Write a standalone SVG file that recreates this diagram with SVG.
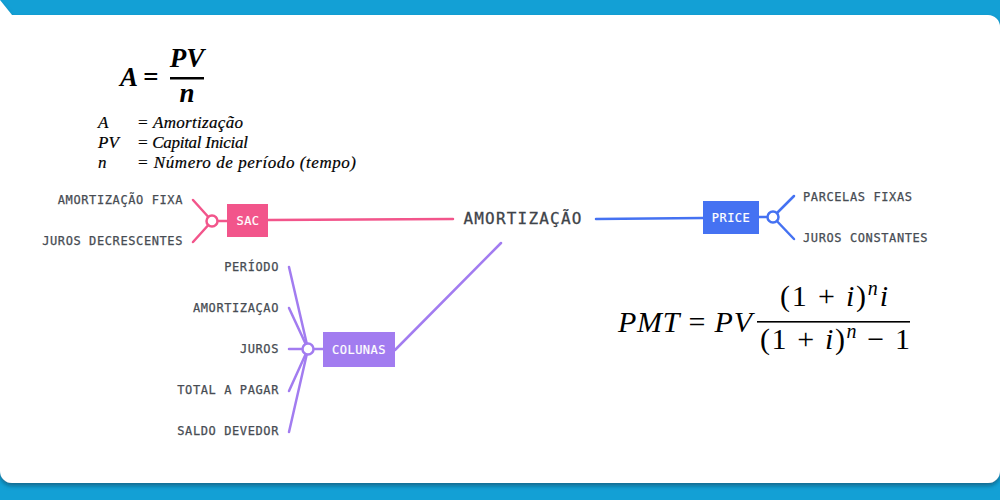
<svg xmlns="http://www.w3.org/2000/svg" width="1000" height="500" viewBox="0 0 1000 500">
<defs>
<style>
.lbl{font-family:"DejaVu Sans Mono","Liberation Mono",monospace;font-size:12px;fill:#474c53;letter-spacing:0.6px;dominant-baseline:central;stroke:#474c53;stroke-width:0.25}
.box{font-family:"DejaVu Sans Mono","Liberation Mono",monospace;font-size:12px;fill:#ffffff;letter-spacing:0.5px;dominant-baseline:central;text-anchor:middle;stroke:#fff;stroke-width:0.2}
.main{font-family:"DejaVu Sans Mono","Liberation Mono",monospace;font-size:16px;fill:#3f444a;letter-spacing:1.2px;dominant-baseline:central;text-anchor:middle;stroke:#3f444a;stroke-width:0.3}
.pk{stroke:#f2558b;stroke-width:2.5;fill:none;stroke-linecap:round}
.bl{stroke:#4572f2;stroke-width:2.5;fill:none;stroke-linecap:round}
.pu{stroke:#a27cf0;stroke-width:2.5;fill:none;stroke-linecap:round}
.f1{font-family:"Liberation Serif","DejaVu Serif",serif;font-style:italic;font-weight:bold;fill:#000}
.leg{font-family:"Liberation Serif","DejaVu Serif",serif;font-style:italic;font-size:17px;fill:#000;stroke:#000;stroke-width:0.2}
.m{font-family:"Liberation Serif","DejaVu Serif",serif;font-size:30px;fill:#000}
</style>
<filter id="sh" x="-5%" y="-5%" width="110%" height="115%">
<feDropShadow dx="0" dy="3" stdDeviation="2" flood-color="#0a5f80" flood-opacity="0.8"/>
</filter>
</defs>
<rect x="0" y="0" width="1000" height="500" fill="#13a0d5"/>
<path d="M0,0 L12,15 H988 A12,12 0 0 1 1000,27 V471 A12,12 0 0 1 988,483 H12 A12,12 0 0 1 0,471 Z" fill="#ffffff" filter="url(#sh)"/>

<g id="formula-a">
<text class="f1" x="120" y="86" font-size="27">A</text>
<text class="f1" x="143" y="86" font-size="27">=</text>
<text class="f1" x="187" y="67" font-size="27" text-anchor="middle">PV</text>
<rect x="170" y="77" width="34" height="2.5" fill="#000"/>
<text class="f1" x="187" y="102" font-size="27" text-anchor="middle">n</text>
<text class="leg" x="98" y="128">A</text>
<text class="leg" x="137" y="128" textLength="106" lengthAdjust="spacing">= Amortização</text>
<text class="leg" x="98" y="148">PV</text>
<text class="leg" x="137" y="148" textLength="111" lengthAdjust="spacing">= Capital Inicial</text>
<text class="leg" x="98" y="168">n</text>
<text class="leg" x="137" y="168" textLength="219" lengthAdjust="spacing">= Número de período (tempo)</text>
</g>

<g id="connectors">
<line class="pk" x1="268" y1="220" x2="453" y2="219"/>
<line class="pk" x1="212" y1="221" x2="193" y2="200"/>
<line class="pk" x1="212" y1="221" x2="193" y2="242"/>
<line class="pk" x1="212" y1="221" x2="227" y2="221"/>
<line class="bl" x1="596" y1="219" x2="703" y2="218"/>
<line class="bl" x1="759" y1="217" x2="773" y2="217"/>
<line class="bl" x1="773" y1="217" x2="794" y2="196"/>
<line class="bl" x1="773" y1="217" x2="794" y2="239"/>
<line class="pu" x1="395" y1="350" x2="501" y2="243"/>
<line class="pu" x1="308" y1="349" x2="323" y2="349"/>
<line class="pu" x1="308" y1="349" x2="289" y2="267"/>
<line class="pu" x1="308" y1="349" x2="289" y2="308"/>
<line class="pu" x1="308" y1="349" x2="289" y2="349"/>
<line class="pu" x1="308" y1="349" x2="289" y2="391"/>
<line class="pu" x1="308" y1="349" x2="289" y2="432"/>
<circle cx="212" cy="221" r="5.5" fill="#fff" stroke="#f2558b" stroke-width="2.5"/>
<circle cx="773" cy="217" r="5.5" fill="#fff" stroke="#4572f2" stroke-width="2.5"/>
<circle cx="308" cy="349" r="5.5" fill="#fff" stroke="#a27cf0" stroke-width="2.5"/>
</g>

<g id="amortizacao">
<text class="main" x="523" y="218">AMORTIZAÇÃO</text>
</g>

<g id="sac">
<rect x="227" y="204" width="41" height="33" fill="#f2558b"/>
<text class="box" x="248" y="221">SAC</text>
</g>
<g id="amortizacao-fixa"><text class="lbl" x="183" y="200" text-anchor="end">AMORTIZAÇÃO FIXA</text></g>
<g id="juros-decrescentes"><text class="lbl" x="183" y="241" text-anchor="end">JUROS DECRESCENTES</text></g>

<g id="price">
<rect x="703" y="201" width="56" height="33" fill="#4572f2"/>
<text class="box" x="731" y="218">PRICE</text>
</g>
<g id="parcelas-fixas"><text class="lbl" x="803" y="197">PARCELAS FIXAS</text></g>
<g id="juros-constantes"><text class="lbl" x="803" y="238">JUROS CONSTANTES</text></g>

<g id="colunas">
<rect x="323" y="332" width="72" height="35" fill="#a27cf0"/>
<text class="box" x="359" y="350">COLUNAS</text>
</g>
<g id="periodo"><text class="lbl" x="279" y="267" text-anchor="end">PERÍODO</text></g>
<g id="amortizacao-col"><text class="lbl" x="279" y="308" text-anchor="end">AMORTIZAÇAO</text></g>
<g id="juros"><text class="lbl" x="279" y="349" text-anchor="end">JUROS</text></g>
<g id="total-a-pagar"><text class="lbl" x="279" y="390" text-anchor="end">TOTAL A PAGAR</text></g>
<g id="saldo-devedor"><text class="lbl" x="279" y="431" text-anchor="end">SALDO DEVEDOR</text></g>

<g id="formula-pmt">
<text class="m" x="618" y="332" textLength="134" lengthAdjust="spacing"><tspan font-style="italic">PMT</tspan> = <tspan font-style="italic">PV</tspan></text>
<text class="m" x="780" y="306" textLength="108" lengthAdjust="spacing">(1 + <tspan font-style="italic">i</tspan>)<tspan font-style="italic" font-size="20" dy="-11">n</tspan><tspan font-style="italic" dy="11">i</tspan></text>
<rect x="757" y="321" width="153" height="1.6" fill="#000"/>
<text class="m" x="760" y="349" textLength="150" lengthAdjust="spacing">(1 + <tspan font-style="italic">i</tspan>)<tspan font-style="italic" font-size="20" dy="-11">n</tspan><tspan dy="11"> − 1</tspan></text>
</g>
</svg>
